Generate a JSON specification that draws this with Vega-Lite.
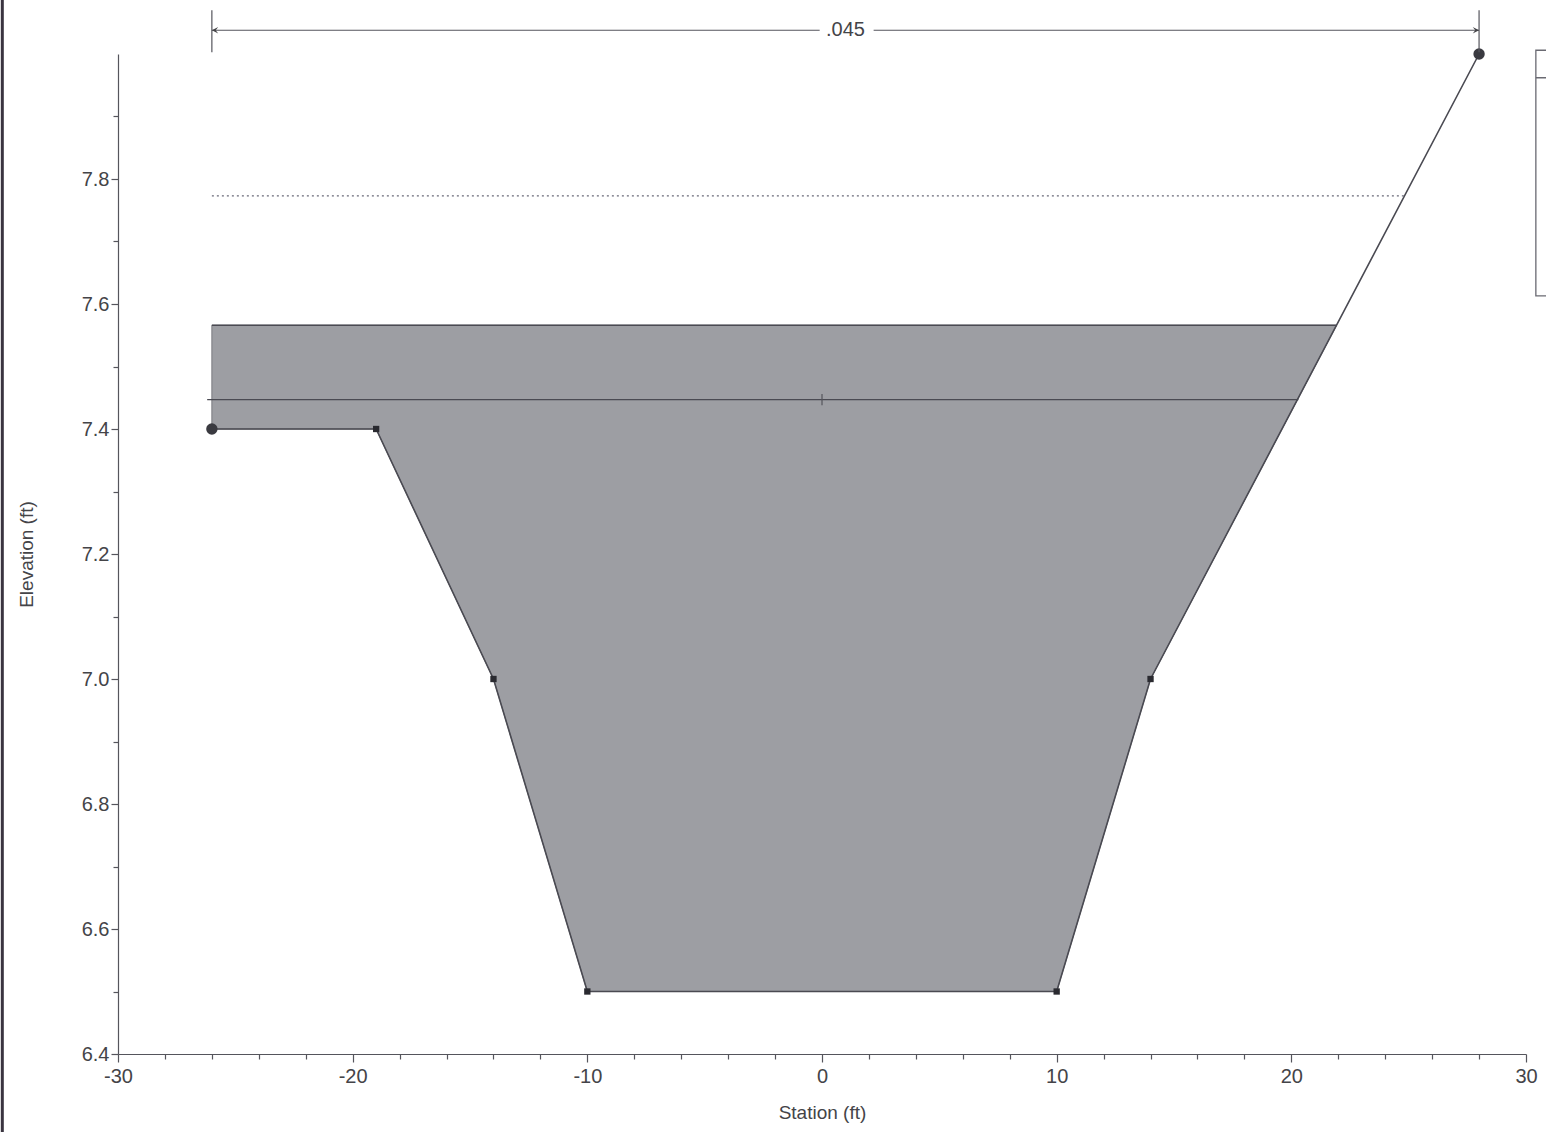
{
  "$schema": "https://vega.github.io/schema/vega-lite/v6.json",
  "width": 1408,
  "height": 1000,
  "autosize": {"type": "none"},
  "padding": {"left": 118, "top": 54, "right": 20, "bottom": 78},
  "background": "white",
  "config": {
    "view": {"stroke": null},
    "font": "Liberation Sans",
    "axis": {"grid": false, "labelFlush": false, "labelOverlap": false, "domainColor": "#55555c", "tickColor": "#55555c", "labelColor": "#444448", "titleColor": "#444448", "labelFont": "Liberation Sans", "titleFont": "Liberation Sans", "labelFontSize": 20, "titleFontSize": 19, "titleFontWeight": "normal", "domainWidth": 1.2, "tickWidth": 1.2}
  },
  "datasets": {
    "ground": [
      {"station": -26, "elevation": 7.4, "kind": "bank"},
      {"station": -19, "elevation": 7.4, "kind": "pt"},
      {"station": -14, "elevation": 7.0, "kind": "pt"},
      {"station": -10, "elevation": 6.5, "kind": "pt"},
      {"station": 10, "elevation": 6.5, "kind": "pt"},
      {"station": 14, "elevation": 7.0, "kind": "pt"},
      {"station": 28, "elevation": 8.0, "kind": "bank"}
    ],
    "water": [
      {"station": -26, "ws": 7.566, "ground": 7.4},
      {"station": -19, "ws": 7.566, "ground": 7.4},
      {"station": -14, "ws": 7.566, "ground": 7.0},
      {"station": -10, "ws": 7.566, "ground": 6.5},
      {"station": 10, "ws": 7.566, "ground": 6.5},
      {"station": 14, "ws": 7.566, "ground": 7.0},
      {"station": 21.93, "ws": 7.566, "ground": 7.566}
    ],
    "hlines": [
      {"from": -26, "to": 21.93, "elev": 7.566, "name": "WS"},
      {"from": -26.2, "to": 20.3, "elev": 7.447, "name": "Crit"}
    ],
    "eg": [
      {"from": -26, "to": 24.82, "elev": 7.773, "name": "EG"}
    ],
    "dim": [
      {"from": -26, "to": -0.1, "elev": 8.038},
      {"from": 2.2, "to": 28, "elev": 8.038}
    ],
    "dimticks": [
      {"station": -26, "lo": 8.003, "hi": 8.07},
      {"station": 28, "lo": 8.003, "hi": 8.07},
      {"station": 0, "lo": 7.438, "hi": 7.456}
    ],
    "arrows": [
      {"station": -26, "elevation": 8.038, "dir": "left"},
      {"station": 28, "elevation": 8.038, "dir": "right"}
    ],
    "labels": [
      {"station": 1.0, "elevation": 8.038, "text": ".045"}
    ],
    "legendbox": [
      {"from": 30.42, "to": 33, "lo": 7.613, "hi": 8.006}
    ],
    "legendsep": [
      {"from": 30.42, "to": 33, "elev": 7.962}
    ],
    "frame": [
      {"station": -34.93, "lo": 6.27, "hi": 8.1}
    ]
  },
  "resolve": {"axis": {"x": "independent", "y": "independent"}},
  "layer": [
    {
      "data": {"name": "water"},
      "mark": {"type": "area", "fill": "#9d9ea3", "stroke": "#7a7b80", "strokeWidth": 1, "clip": false},
      "encoding": {
        "x": {"field": "station", "type": "quantitative", "scale": {"domain": [-30, 30], "nice": false, "zero": false},
          "axis": {"orient": "bottom", "title": "Station (ft)", "values": [-30, -20, -10, 0, 10, 20, 30], "tickSize": 8, "labelPadding": 4, "titlePadding": 17, "labelExpr": "'' + datum.value"}},
        "y": {"field": "ws", "type": "quantitative", "scale": {"domain": [6.4, 8.0], "nice": false, "zero": false},
          "axis": {"orient": "left", "title": "Elevation (ft)", "values": [6.4, 6.6, 6.8, 7.0, 7.2, 7.4, 7.6, 7.8], "format": ".1f", "tickSize": 7, "labelPadding": 2, "titlePadding": 45}},
        "y2": {"field": "ground"}
      }
    },
    {
      "data": {"name": "ground"},
      "mark": {"type": "line", "color": "#4a4a52", "strokeWidth": 1.6},
      "encoding": {
        "x": {"field": "station", "type": "quantitative",
          "axis": {"orient": "bottom", "title": null, "labels": false, "domain": false, "values": [-28, -26, -24, -22, -18, -16, -14, -12, -8, -6, -4, -2, 2, 4, 6, 8, 12, 14, 16, 18, 22, 24, 26, 28], "tickSize": 5}},
        "y": {"field": "elevation", "type": "quantitative",
          "axis": {"orient": "left", "title": null, "labels": false, "domain": false, "values": [6.5, 6.7, 6.9, 7.1, 7.3, 7.5, 7.7, 7.9], "tickSize": 5}}
      }
    },
    {
      "data": {"name": "hlines"},
      "mark": {"type": "rule", "color": "#4a4a52", "strokeWidth": 1.3},
      "encoding": {
        "x": {"field": "from", "type": "quantitative", "axis": null},
        "x2": {"field": "to"},
        "y": {"field": "elev", "type": "quantitative", "axis": null}
      }
    },
    {
      "data": {"name": "eg"},
      "mark": {"type": "rule", "color": "#6a6a78", "strokeWidth": 1.3, "strokeDash": [2, 3]},
      "encoding": {
        "x": {"field": "from", "type": "quantitative", "axis": null},
        "x2": {"field": "to"},
        "y": {"field": "elev", "type": "quantitative", "axis": null}
      }
    },
    {
      "data": {"name": "ground"},
      "transform": [{"filter": "datum.kind == 'pt'"}],
      "mark": {"type": "point", "shape": "square", "filled": true, "color": "#2a2a30", "size": 40, "opacity": 1},
      "encoding": {
        "x": {"field": "station", "type": "quantitative", "axis": null},
        "y": {"field": "elevation", "type": "quantitative", "axis": null}
      }
    },
    {
      "data": {"name": "ground"},
      "transform": [{"filter": "datum.kind == 'bank'"}],
      "mark": {"type": "point", "shape": "circle", "filled": true, "color": "#3a3a40", "size": 130, "opacity": 1},
      "encoding": {
        "x": {"field": "station", "type": "quantitative", "axis": null},
        "y": {"field": "elevation", "type": "quantitative", "axis": null}
      }
    },
    {
      "data": {"name": "dim"},
      "mark": {"type": "rule", "color": "#55555c", "strokeWidth": 1.2},
      "encoding": {
        "x": {"field": "from", "type": "quantitative", "axis": null},
        "x2": {"field": "to"},
        "y": {"field": "elev", "type": "quantitative", "axis": null}
      }
    },
    {
      "data": {"name": "dimticks"},
      "mark": {"type": "rule", "color": "#55555c", "strokeWidth": 1.2},
      "encoding": {
        "x": {"field": "station", "type": "quantitative", "axis": null},
        "y": {"field": "lo", "type": "quantitative", "axis": null},
        "y2": {"field": "hi"}
      }
    },
    {
      "data": {"name": "arrows"},
      "transform": [{"filter": "datum.dir == 'left'"}],
      "mark": {"type": "point", "shape": "M0,0L1,-0.5L0.6,0L1,0.5Z", "filled": true, "color": "#444448", "size": 160, "opacity": 1},
      "encoding": {
        "x": {"field": "station", "type": "quantitative", "axis": null},
        "y": {"field": "elevation", "type": "quantitative", "axis": null}
      }
    },
    {
      "data": {"name": "arrows"},
      "transform": [{"filter": "datum.dir == 'right'"}],
      "mark": {"type": "point", "shape": "M0,0L-1,-0.5L-0.6,0L-1,0.5Z", "filled": true, "color": "#444448", "size": 160, "opacity": 1},
      "encoding": {
        "x": {"field": "station", "type": "quantitative", "axis": null},
        "y": {"field": "elevation", "type": "quantitative", "axis": null}
      }
    },
    {
      "data": {"name": "labels"},
      "mark": {"type": "text", "font": "Liberation Sans", "fontSize": 20, "color": "#444448", "align": "center", "baseline": "middle"},
      "encoding": {
        "x": {"field": "station", "type": "quantitative", "axis": null},
        "y": {"field": "elevation", "type": "quantitative", "axis": null},
        "text": {"field": "text"}
      }
    },
    {
      "data": {"name": "legendbox"},
      "mark": {"type": "rect", "fill": "white", "stroke": "#6a6a72", "strokeWidth": 1.3},
      "encoding": {
        "x": {"field": "from", "type": "quantitative", "axis": null},
        "x2": {"field": "to"},
        "y": {"field": "lo", "type": "quantitative", "axis": null},
        "y2": {"field": "hi"}
      }
    },
    {
      "data": {"name": "legendsep"},
      "mark": {"type": "rule", "color": "#6a6a72", "strokeWidth": 1.3},
      "encoding": {
        "x": {"field": "from", "type": "quantitative", "axis": null},
        "x2": {"field": "to"},
        "y": {"field": "elev", "type": "quantitative", "axis": null}
      }
    },
    {
      "data": {"name": "frame"},
      "mark": {"type": "rule", "color": "#3a3440", "strokeWidth": 3},
      "encoding": {
        "x": {"field": "station", "type": "quantitative", "axis": null},
        "y": {"field": "lo", "type": "quantitative", "axis": null},
        "y2": {"field": "hi"}
      }
    }
  ]
}
